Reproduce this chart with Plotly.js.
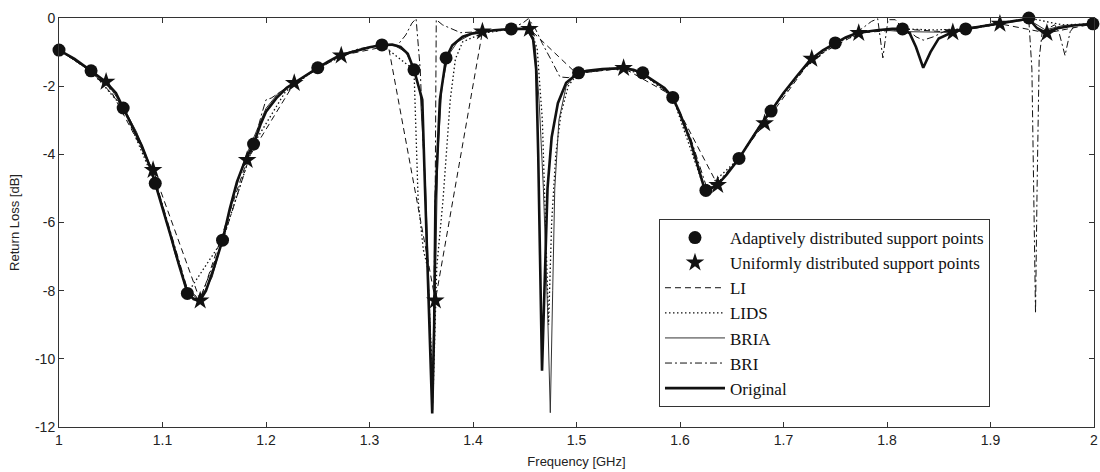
<!DOCTYPE html>
<html>
<head>
<meta charset="utf-8">
<script src="https://cdn.plot.ly/plotly-3.0.1.min.js"></script>
<style>html,body{margin:0;padding:0;background:#fff;}#chart{width:1100px;height:472px;}</style>
</head>
<body>
<div id="chart"></div>
<script>
// Original response
const origX = [1.0,1.015,1.031,1.045,1.055,1.062,1.07,1.08,1.089,1.093,1.1,1.108,1.116,1.124,1.13,1.136,1.142,1.15,1.158,1.165,1.172,1.18,1.188,1.195,1.2,1.21,1.22,1.227,1.24,1.25,1.26,1.271,1.285,1.3,1.312,1.322,1.33,1.337,1.343,1.347,1.351,1.354,1.357,1.3606,1.3625,1.3637,1.368,1.374,1.38,1.39,1.4,1.409,1.42,1.437,1.452,1.458,1.461,1.463,1.465,1.4667,1.469,1.472,1.476,1.482,1.49,1.5015,1.51,1.525,1.545,1.555,1.563,1.575,1.585,1.593,1.6,1.61,1.618,1.624,1.63,1.636,1.645,1.657,1.668,1.679,1.688,1.7,1.713,1.726,1.738,1.75,1.76,1.771,1.79,1.805,1.815,1.822,1.828,1.835,1.842,1.85,1.863,1.876,1.89,1.907,1.92,1.937,1.945,1.953,1.965,1.98,2.0];
const origY = [-0.94,-1.2,-1.55,-1.87,-2.2,-2.64,-3.1,-3.75,-4.45,-4.85,-5.55,-6.4,-7.25,-8.05,-8.25,-8.3,-8.0,-7.3,-6.52,-5.6,-4.8,-4.17,-3.7,-3.1,-2.75,-2.35,-2.05,-1.91,-1.65,-1.46,-1.28,-1.1,-0.98,-0.86,-0.79,-0.78,-0.85,-1.05,-1.52,-1.95,-2.4,-5.35,-8.0,-11.6,-9.0,-5.35,-2.4,-1.17,-0.8,-0.55,-0.45,-0.4,-0.36,-0.32,-0.32,-0.6,-1.5,-4,-7.5,-10.35,-8,-5,-3.5,-2.5,-1.9,-1.61,-1.55,-1.5,-1.47,-1.52,-1.61,-1.85,-2.05,-2.33,-2.8,-3.6,-4.4,-5.05,-5.0,-4.9,-4.6,-4.12,-3.6,-3.09,-2.73,-2.2,-1.7,-1.22,-0.95,-0.73,-0.57,-0.44,-0.36,-0.32,-0.32,-0.45,-0.85,-1.46,-1.0,-0.6,-0.42,-0.32,-0.25,-0.17,-0.1,-0.02,-0.3,-0.42,-0.3,-0.22,-0.17];

// BRIA
const briaX = [1.0,1.031,1.045,1.062,1.075,1.089,1.1,1.112,1.124,1.136,1.148,1.158,1.17,1.18,1.19,1.2,1.212,1.227,1.25,1.271,1.29,1.312,1.325,1.335,1.343,1.349,1.354,1.358,1.361,1.3635,1.366,1.37,1.376,1.385,1.4,1.42,1.437,1.452,1.46,1.464,1.468,1.472,1.4747,1.477,1.479,1.483,1.49,1.5,1.52,1.545,1.563,1.58,1.593,1.61,1.624,1.636,1.657,1.679,1.7,1.726,1.75,1.771,1.795,1.815,1.863,1.876,1.907,1.937,1.953,1.97,2.0];
const briaY = [-0.94,-1.55,-1.85,-2.6,-3.35,-4.4,-5.5,-6.9,-8.0,-8.28,-7.6,-6.5,-5.1,-4.1,-3.4,-2.65,-2.2,-1.9,-1.45,-1.1,-0.92,-0.78,-0.82,-1.0,-1.5,-2.2,-4.8,-8.5,-11.5,-8,-4,-2.0,-1.1,-0.7,-0.45,-0.36,-0.32,-0.32,-0.8,-2.5,-5,-8.5,-11.58,-8,-5,-3,-2.0,-1.63,-1.52,-1.47,-1.61,-1.95,-2.35,-3.6,-5.0,-4.9,-4.1,-3.1,-2.2,-1.22,-0.72,-0.45,-0.35,-0.4,-0.42,-0.32,-0.17,-0.05,-0.35,-0.22,-0.17];

// LI (through uniformly distributed support points)
const liX = [1.0,1.0455,1.0909,1.1364,1.1818,1.2273,1.2727,1.3182,1.3636,1.4091,1.4545,1.5,1.5455,1.5909,1.6364,1.6818,1.7273,1.7727,1.8182,1.8636,1.9091,1.9545,2.0];
const liY = [-0.94,-1.87,-4.46,-8.29,-4.17,-1.91,-1.1,-0.82,-8.29,-0.4,-0.32,-1.63,-1.47,-2.25,-4.9,-3.09,-1.2,-0.44,-0.33,-0.42,-0.17,-0.44,-0.17];

// LIDS
const lidsX = [1.0,1.031,1.062,1.093,1.124,1.158,1.188,1.219,1.25,1.281,1.312,1.343,1.347,1.352,1.356,1.3615,1.365,1.371,1.378,1.383,1.39,1.409,1.437,1.455,1.462,1.467,1.47,1.473,1.476,1.48,1.485,1.492,1.5015,1.531,1.563,1.593,1.624,1.657,1.688,1.719,1.75,1.781,1.815,1.845,1.876,1.906,1.937,1.969,2.0];
const lidsY = [-0.94,-1.55,-2.64,-4.85,-8.08,-6.52,-3.7,-2.15,-1.46,-1.02,-0.79,-1.52,-5.35,-6.8,-7.3,-11.0,-7.3,-5.35,-2.4,-1.2,-0.7,-0.45,-0.32,-0.3,-0.9,-3,-6,-9,-6,-4,-2.8,-2.0,-1.61,-1.48,-1.61,-2.33,-5.05,-4.12,-2.73,-1.5,-0.73,-0.4,-0.32,-0.35,-0.32,-0.2,0,-0.2,-0.17];

// BRI
const briX = [1.0,1.031,1.062,1.093,1.124,1.136,1.158,1.188,1.196,1.2,1.205,1.227,1.25,1.271,1.29,1.312,1.327,1.335,1.341,1.345,1.349,1.353,1.356,1.359,1.361,1.3635,1.3645,1.3705,1.388,1.409,1.437,1.448,1.4535,1.46,1.467,1.475,1.484,1.492,1.502,1.545,1.563,1.593,1.61,1.625,1.636,1.657,1.679,1.7,1.726,1.75,1.771,1.785,1.791,1.796,1.801,1.808,1.815,1.822,1.828,1.835,1.845,1.855,1.865,1.876,1.907,1.93,1.937,1.94,1.942,1.9435,1.945,1.947,1.95,1.962,1.966,1.972,1.977,1.982,2.0];
const briY = [-0.94,-1.55,-2.6,-4.75,-7.95,-8.25,-6.55,-3.7,-2.8,-2.4,-2.35,-1.9,-1.45,-1.1,-0.9,-0.79,-0.8,-0.5,-0.15,-0.02,-1.5,-4.5,-7.0,-9.5,-11.3,-5,-0.05,-0.2,-0.43,-0.4,-0.3,-0.15,-0.02,-0.3,-0.75,-1.2,-1.73,-1.75,-1.62,-1.47,-1.62,-2.3,-3.5,-4.9,-4.85,-4.1,-3.05,-2.2,-1.2,-0.72,-0.42,-0.1,-0.02,-1.17,-0.05,-0.05,-0.3,-0.4,-0.55,-0.65,-0.55,-0.4,-0.35,-0.3,-0.15,-0.05,-0.05,-1.5,-5,-8.67,-5,-1.2,-0.4,-0.2,-0.4,-1.1,-0.4,-0.2,-0.17];

// Adaptively distributed support points (visible markers)
const adaptX = [1.0,1.031,1.062,1.093,1.124,1.158,1.188,1.25,1.312,1.343,1.374,1.437,1.502,1.564,1.593,1.625,1.657,1.688,1.75,1.815,1.876,1.937,1.999];
const adaptY = [-0.94,-1.55,-2.64,-4.85,-8.08,-6.52,-3.7,-1.46,-0.79,-1.52,-1.17,-0.32,-1.61,-1.61,-2.33,-5.06,-4.12,-2.73,-0.73,-0.32,-0.32,0,-0.17];

// Uniformly distributed support points (visible markers)
const unifX = [1.0455,1.0909,1.1364,1.1818,1.2273,1.2727,1.3636,1.4091,1.4545,1.5455,1.6364,1.6818,1.7273,1.7727,1.8636,1.9091,1.9545];
const unifY = [-1.87,-4.46,-8.29,-4.17,-1.91,-1.1,-8.29,-0.4,-0.32,-1.47,-4.9,-3.09,-1.2,-0.44,-0.42,-0.17,-0.44];

const xTicks = [1,1.1,1.2,1.3,1.4,1.5,1.6,1.7,1.8,1.9,2];
const xTickText = ['1','1.1','1.2','1.3','1.4','1.5','1.6','1.7','1.8','1.9','2'];
const yTicks = [0,-2,-4,-6,-8,-10,-12];
const yTickText = ['0','-2','-4','-6','-8','-10','-12'];

const ink = '#111';
const traces = [
  {x: liX, y: liY, mode: 'lines', name: 'LI', legendrank: 3,
   line: {color: ink, width: 1, dash: '6px,4px'}},
  {x: lidsX, y: lidsY, mode: 'lines', name: 'LIDS', legendrank: 4,
   line: {color: ink, width: 1.3, dash: '1.5px,2.5px'}},
  {x: briaX, y: briaY, mode: 'lines', name: 'BRIA', legendrank: 5,
   line: {color: '#333', width: 1}},
  {x: briX, y: briY, mode: 'lines', name: 'BRI', legendrank: 6,
   line: {color: ink, width: 1, dash: '7px,3px,2px,3px'}},
  {x: origX, y: origY, mode: 'lines', name: 'Original', legendrank: 7,
   line: {color: ink, width: 2.6}},
  {x: adaptX, y: adaptY, mode: 'markers', name: 'Adaptively distributed support points', legendrank: 1,
   cliponaxis: false, marker: {symbol: 'circle', size: 13, color: ink}},
  {x: unifX, y: unifY, mode: 'markers', name: 'Uniformly distributed support points', legendrank: 2,
   cliponaxis: false, marker: {symbol: 'star', size: 14, color: ink}}
];

const axisCommon = {
  showline: true, linecolor: '#333', linewidth: 1, mirror: 'ticks',
  ticks: 'inside', ticklen: 5, tickcolor: '#333', tickwidth: 1,
  showgrid: false, zeroline: false,
  tickfont: {family: 'Liberation Sans, Arial, sans-serif', size: 14, color: '#222'}
};

const layout = {
  width: 1100, height: 472,
  margin: {l: 59, r: 6, t: 18, b: 45},
  paper_bgcolor: '#fff', plot_bgcolor: '#fff',
  showlegend: true,
  xaxis: Object.assign({}, axisCommon, {
    range: [1, 2], tickmode: 'array', tickvals: xTicks, ticktext: xTickText,
    title: {text: 'Frequency [GHz]', standoff: 10,
            font: {family: 'Liberation Sans, Arial, sans-serif', size: 13, color: '#222'}}
  }),
  yaxis: Object.assign({}, axisCommon, {
    range: [-12, 0], tickmode: 'array', tickvals: yTicks, ticktext: yTickText,
    title: {text: 'Return Loss [dB]', standoff: 12,
            font: {family: 'Liberation Sans, Arial, sans-serif', size: 13, color: '#222'}}
  }),
  legend: {
    x: 0.5797, y: 0.5086, xanchor: 'left', yanchor: 'top',
    bgcolor: '#fff', bordercolor: '#333', borderwidth: 1,
    font: {family: 'Liberation Serif, Times New Roman, serif', size: 17, color: '#111'},
    itemwidth: 60, tracegroupgap: 0
  }
};

Plotly.newPlot('chart', traces, layout, {displayModeBar: false, staticPlot: true});
</script>
</body>
</html>
